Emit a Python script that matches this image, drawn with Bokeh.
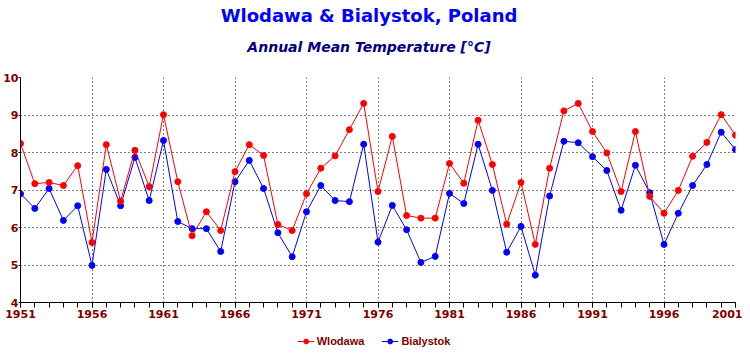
from bokeh.plotting import figure
from bokeh.layouts import column
from bokeh.models import FixedTicker, Legend, LegendItem, Title, ColumnDataSource, Range1d
from bokeh.embed import file_html
from bokeh.resources import INLINE

years = list(range(1951, 2002))
wlodawa = [8.24, 7.17, 7.20, 7.12, 7.65, 5.60, 8.21, 6.70, 8.06, 7.09,
           9.01, 7.22, 5.78, 6.42, 5.92, 7.49, 8.21, 7.92, 6.08, 5.92,
           6.90, 7.58, 7.91, 8.61, 9.31, 6.96, 8.43, 6.32, 6.25, 6.25,
           7.71, 7.18, 8.86, 7.68, 6.09, 7.20, 5.55, 7.58, 9.11, 9.31,
           8.56, 7.99, 6.96, 8.56, 6.83, 6.38, 6.99, 7.90, 8.27, 9.01,
           8.46]
bialystok = [6.90, 6.51, 7.04, 6.19, 6.58, 4.99, 7.55, 6.58, 7.87, 6.72,
             8.32, 6.16, 5.97, 5.97, 5.36, 7.22, 7.79, 7.04, 5.86, 5.22,
             6.42, 7.12, 6.72, 6.69, 8.22, 5.61, 6.59, 5.94, 5.07, 5.23,
             6.91, 6.64, 8.22, 6.99, 5.34, 6.03, 4.73, 6.84, 8.30, 8.26,
             7.89, 7.52, 6.46, 7.66, 6.93, 5.55, 6.38, 7.12, 7.68, 8.54,
             8.08]
x_major = [1951, 1956, 1961, 1966, 1971, 1976, 1981, 1986, 1991, 1996, 2001]
y_major = [4, 5, 6, 7, 8, 9, 10]

src = ColumnDataSource(dict(year=years, w=wlodawa, b=bialystok))


def blank(fig):
    fig.outline_line_color = None
    fig.axis.visible = False
    fig.grid.visible = False
    fig.title = None


# title strip
t = figure(width=724, height=69, output_backend="svg", toolbar_location=None,
           x_range=Range1d(0, 1), y_range=Range1d(0, 1), min_border=0,
           background_fill_color="white", border_fill_color="white")
blank(t)
sub = Title(text="Annual Mean Temperature [°C]", align="center", vertical_align="top",
            text_font="DejaVu Sans", text_font_style="bold italic",
            text_font_size="14px", text_color="#000080", standoff=12)
main = Title(text="Wlodawa & Bialystok, Poland", align="center", vertical_align="top",
             text_font="DejaVu Sans", text_font_style="bold",
             text_font_size="18px", text_color="#0000FF", standoff=9)
t.add_layout(sub, "above")
t.add_layout(main, "above")

# main chart
p = figure(frame_width=715, frame_height=225, output_backend="svg", toolbar_location=None,
           x_range=Range1d(1951, 2001), y_range=Range1d(4, 10),
           min_border_left=8, min_border_right=7, min_border_top=8, min_border_bottom=0,
           background_fill_color="white", border_fill_color="white")
p.outline_line_color = None
p.title = None

xt = FixedTicker(ticks=x_major, minor_ticks=years)
yt = FixedTicker(ticks=y_major)
p.xaxis.ticker = xt
p.yaxis.ticker = yt
p.xgrid.ticker = xt
p.ygrid.ticker = yt
for g in (p.xgrid, p.ygrid):
    g.grid_line_color = "black"
    g.grid_line_dash = "1 3"
    g.grid_line_width = 1

for ax in (p.xaxis, p.yaxis):
    ax.axis_line_color = "black"
    ax.major_tick_line_color = "black"
    ax.minor_tick_line_color = "black"
    ax.major_tick_in = 0
    ax.minor_tick_in = 0
    ax.major_label_text_color = "#800000"
    ax.major_label_text_font = "DejaVu Sans"
    ax.major_label_text_font_style = "bold"
    ax.major_label_text_font_size = "11px"
p.xaxis.major_tick_out = 5
p.xaxis.minor_tick_out = 5
p.xaxis.major_label_standoff = 2
p.yaxis.major_tick_out = 2
p.yaxis.minor_tick_out = 0
p.yaxis.major_label_standoff = 0

p.line("year", "b", source=src, line_color="#0000FF", line_width=1)
p.scatter("year", "b", source=src, size=6, fill_color="#0000FF", line_color="#0000FF")
p.line("year", "w", source=src, line_color="#FF0000", line_width=1)
p.scatter("year", "w", source=src, size=6, fill_color="#FF0000", line_color="#FF0000")

# legend strip below the chart (same series, same styles)
q = figure(width=734, height=28, output_backend="svg", toolbar_location=None,
           x_range=Range1d(0, 1), y_range=Range1d(0, 1), min_border=0,
           background_fill_color="white", border_fill_color="white")
blank(q)
bl = q.line("year", "b", source=src, line_color="#0000FF", line_width=1)
bc = q.scatter("year", "b", source=src, size=6, fill_color="#0000FF", line_color="#0000FF")
rl = q.line("year", "w", source=src, line_color="#FF0000", line_width=1)
rc = q.scatter("year", "w", source=src, size=6, fill_color="#FF0000", line_color="#FF0000")

legend = Legend(items=[LegendItem(label="Wlodawa", renderers=[rl, rc]),
                       LegendItem(label="Bialystok", renderers=[bl, bc])],
                orientation="horizontal", location="bottom_center",
                label_text_color="#800000", label_text_font="Liberation Sans",
                label_text_font_style="bold", label_text_font_size="11px",
                label_height=14, label_standoff=3, glyph_width=17, glyph_height=12,
                spacing=17, padding=0, margin=0,
                border_line_color=None, background_fill_alpha=0)
q.add_layout(legend)

layout = column(t, p, q, spacing=0)
open("out.html", "w").write(file_html(layout, INLINE))
